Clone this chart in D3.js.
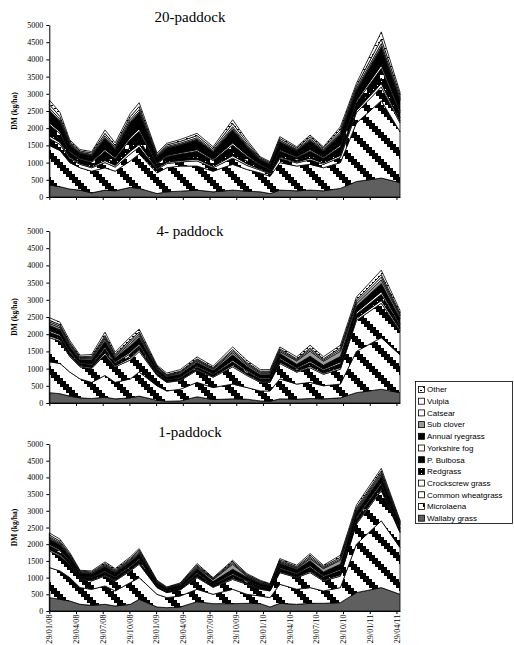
<!DOCTYPE html>
<html><head><meta charset="utf-8">
<script src="https://cdn.jsdelivr.net/npm/d3@7"></script>
<style>body{margin:0;background:#fff} .serif{font-family:'Liberation Serif','Times New Roman',serif} .sans{font-family:'Liberation Sans',Arial,sans-serif}</style>
</head><body><svg id="c" width="514" height="645"></svg>
<script>
// ---- data ----
const seriesNames = ["Wallaby grass","Microlaena","Common wheatgrass","Crockscrew grass","Redgrass","P. Bulbosa","Yorkshire fog","Annual ryegrass","Sub clover","Catsear","Vulpia","Other"];
// sampling time, in months after 29/01/08
const months = [0,1.2,2.3,3.45,4.76,6.26,7.4,9.1,10.1,12.1,13.2,14.7,16.6,18.4,20.6,22.2,23.7,24.8,25.9,27.8,29.3,30.8,32.7,34.5,37.3,39.4];
const tickMonths = [0,3,6,9,12,15,18,21,24,27,30,33,36,39];
const tickLabels = ["29/01/08","29/04/08","29/07/08","29/10/08","29/01/09","29/04/09","29/07/09","29/10/09","29/01/10","29/04/10","29/07/10","29/10/10","29/01/11","29/04/11"];
const yTicks = [0,500,1000,1500,2000,2500,3000,3500,4000,4500,5000];
const titles = ["20-paddock","4- paddock","1-paddock"];

// 20-paddock
const p20Wallaby = [350,300,230,200,120,200,180,280,250,100,150,170,200,150,200,170,150,100,200,180,200,180,250,450,550,420];
const p20Micro   = [1150,1050,770,650,630,650,570,770,1000,600,700,730,700,600,750,630,550,500,800,720,750,670,750,1700,2250,1480];
const p20Wheat   = [200,180,120,100,100,150,120,200,200,100,120,120,150,100,180,120,80,70,120,90,130,100,150,300,400,250];
const p20Crock   = [80,60,40,30,30,60,50,80,80,30,40,40,50,40,70,50,30,30,40,30,50,40,60,60,100,60];
const p20Red     = [120,100,60,50,50,100,70,120,130,50,60,70,80,60,110,80,40,40,70,50,80,50,90,90,160,90];
const p20Bulbosa = [200,160,90,70,80,170,120,230,250,80,110,120,150,110,200,130,70,60,110,80,130,90,160,150,280,160];
const p20Fog     = [60,50,30,25,30,50,40,60,70,30,30,35,45,35,60,40,25,20,35,25,40,30,50,50,90,50];
const p20Rye     = [330,280,180,140,160,320,230,420,460,170,210,220,280,210,380,250,130,120,220,170,250,180,310,280,500,300];
const p20Clover  = [40,30,20,15,15,30,25,40,40,15,20,25,30,20,40,25,15,10,20,15,25,15,30,30,50,30];
const p20Catsear = [60,50,30,25,25,50,35,60,60,25,30,35,40,30,55,40,20,20,35,25,40,30,45,45,80,50];
const p20Vulpia  = [100,80,40,35,40,70,55,80,90,35,45,50,60,50,90,60,30,30,50,40,55,40,70,70,130,80];
const p20Other   = [130,120,50,40,40,100,80,90,110,45,45,55,65,55,110,65,30,30,55,35,50,35,75,75,210,80];

// 4-paddock
const p4Wallaby = [300,270,200,150,130,170,120,150,200,80,50,60,180,100,120,110,60,50,120,110,130,120,150,300,400,300];
const p4Micro   = [900,880,700,550,470,630,480,550,700,420,300,340,420,350,430,340,290,300,580,440,470,380,400,1200,1500,1100];
const p4Wheat   = [700,650,450,350,400,600,450,550,600,300,250,250,350,300,500,350,250,250,450,345,425,335,430,900,1000,700];
const p4Crock   = [50,45,40,30,35,55,35,55,55,25,20,25,30,25,45,35,30,30,40,30,45,35,50,55,80,50];
const p4Red     = [50,45,40,30,35,55,35,55,55,25,20,25,30,25,45,35,30,30,40,30,45,35,50,55,80,50];
const p4Bulbosa = [60,55,45,35,40,65,45,70,65,30,25,30,40,30,60,45,35,35,50,40,60,45,65,70,100,60];
const p4Fog     = [45,45,40,25,30,50,35,50,50,25,20,25,30,25,45,35,30,30,40,30,45,35,50,55,75,45];
const p4Rye     = [150,140,120,90,110,170,110,180,170,75,70,80,100,80,150,110,95,95,120,100,140,110,160,170,240,150];
const p4Clover  = [60,60,50,35,40,70,45,70,70,35,30,40,45,40,70,50,45,45,55,100,150,120,150,80,110,70];
const p4Catsear = [45,45,40,25,35,50,35,50,50,25,20,25,30,25,45,35,30,30,40,30,45,35,50,55,75,45];
const p4Vulpia  = [45,45,35,25,35,50,35,50,50,25,20,25,30,25,45,35,30,30,40,30,45,35,50,55,75,45];
const p4Other   = [75,70,60,45,50,95,55,90,85,35,45,45,55,45,75,60,45,45,55,55,80,60,75,85,125,75];

// 1-paddock
const p1Wallaby = [400,350,300,200,170,200,150,200,350,120,100,120,280,220,220,230,220,120,230,200,230,230,250,550,700,500];
const p1Micro   = [900,850,700,500,480,550,450,650,650,380,300,330,370,280,430,270,230,280,570,450,470,370,450,1450,2000,1400];
const p1Wheat   = [500,450,400,250,250,300,300,350,400,200,150,180,350,210,295,300,200,200,350,350,450,300,345,600,900,450];
const p1Crock   = [40,40,25,20,25,30,25,30,35,15,12,15,30,20,35,25,20,15,30,25,40,30,40,40,50,25];
const p1Red     = [50,45,35,25,30,40,35,40,45,20,15,20,40,25,45,30,25,20,40,35,55,40,55,55,65,35];
const p1Bulbosa = [70,65,45,35,40,55,50,55,60,30,25,30,55,35,60,40,35,30,55,50,70,55,70,70,85,50];
const p1Fog     = [40,35,25,20,20,30,25,30,35,15,12,15,30,20,35,25,20,15,30,25,40,30,40,40,50,25];
const p1Rye     = [150,140,100,80,85,120,110,120,135,65,50,60,120,70,130,90,75,65,120,105,150,115,150,150,180,100];
const p1Clover  = [40,35,25,20,20,35,30,35,40,15,12,15,35,60,150,30,25,20,35,35,65,100,120,50,60,35];
const p1Catsear = [40,35,25,20,20,30,25,30,35,15,12,15,30,20,35,25,20,15,30,25,40,30,40,40,50,25];
const p1Vulpia  = [50,45,30,25,30,35,30,35,40,20,15,20,35,20,40,25,25,20,40,30,50,35,50,50,55,35];
const p1Other   = [60,60,40,25,30,45,40,45,45,25,17,20,45,20,45,30,25,20,40,40,60,35,60,75,75,40];

const panels = [
  [p20Wallaby,p20Micro,p20Wheat,p20Crock,p20Red,p20Bulbosa,p20Fog,p20Rye,p20Clover,p20Catsear,p20Vulpia,p20Other],
  [p4Wallaby,p4Micro,p4Wheat,p4Crock,p4Red,p4Bulbosa,p4Fog,p4Rye,p4Clover,p4Catsear,p4Vulpia,p4Other],
  [p1Wallaby,p1Micro,p1Wheat,p1Crock,p1Red,p1Bulbosa,p1Fog,p1Rye,p1Clover,p1Catsear,p1Vulpia,p1Other]
];

// ---- drawing ----
const svg = d3.select("#c");
const defs = svg.append("defs");

function stripePattern(id, dx){
  const p = defs.append("pattern").attr("id", id).attr("patternUnits","userSpaceOnUse")
    .attr("width",27).attr("height",27).attr("patternTransform",`translate(${dx},0)`);
  p.append("rect").attr("width",27).attr("height",27).attr("fill","#fff");
  for(let j=0;j<9;j++){
    const x0 = 3*j, y0 = 3*j;
    if(x0+9<=27) p.append("rect").attr("x",x0).attr("y",y0).attr("width",9).attr("height",3).attr("fill","#000");
    else {
      p.append("rect").attr("x",x0).attr("y",y0).attr("width",27-x0).attr("height",3).attr("fill","#000");
      p.append("rect").attr("x",0).attr("y",y0).attr("width",x0+9-27).attr("height",3).attr("fill","#000");
    }
  }
}
stripePattern("pMicro",0);
stripePattern("pWheat",13);
(function(){
  const p = defs.append("pattern").attr("id","pBulb").attr("patternUnits","userSpaceOnUse").attr("width",17).attr("height",14);
  p.append("rect").attr("width",17).attr("height",14).attr("fill","#000");
  p.append("rect").attr("x",6).attr("y",5).attr("width",4).attr("height",4).attr("fill","#fff");
  const q = defs.append("pattern").attr("id","pRed").attr("patternUnits","userSpaceOnUse").attr("width",4).attr("height",4);
  q.append("rect").attr("width",4).attr("height",4).attr("fill","#000");
  q.append("rect").attr("x",1).attr("y",1).attr("width",1).attr("height",1).attr("fill","#fff");
  const o = defs.append("pattern").attr("id","pOther").attr("patternUnits","userSpaceOnUse").attr("width",6).attr("height",6);
  o.append("rect").attr("width",6).attr("height",6).attr("fill","#fff");
  o.append("rect").attr("x",0).attr("y",0).attr("width",2).attr("height",1).attr("fill","#000");
  o.append("rect").attr("x",3).attr("y",3).attr("width",2).attr("height",1).attr("fill","#000");
})();

const fills = ["#5f5f5f","url(#pMicro)","url(#pWheat)","#fff","url(#pRed)","url(#pBulb)","#fff","#000","#999","#fff","#fff","url(#pOther)"];

const x = d3.scaleLinear().domain([0, 39.4]).range([49.3, 400]);
const layout = [
  {top:25, bottom:197, titleY:22},
  {top:231, bottom:403, titleY:236},
  {top:444, bottom:611, titleY:437}
];

panels.forEach((arrs, pi) => {
  const L = layout[pi];
  const y = d3.scaleLinear().domain([0,5000]).range([L.bottom, L.top]);
  const rows = months.map((m,i) => {
    const r = {m};
    seriesNames.forEach((n,k) => r[n] = arrs[k][i]);
    return r;
  });
  const stacked = d3.stack().keys(seriesNames)(rows);
  const area = d3.area().x(d => x(d.data.m)).y0(d => y(d[0])).y1(d => y(d[1]));
  const g = svg.append("g");
  g.selectAll("path.a").data(stacked).join("path").attr("class","a")
    .attr("d", area).attr("fill", (d,i) => fills[i])
    .attr("stroke","#000").attr("stroke-width",0.8).attr("stroke-linejoin","round");

  const ya = g.append("g").attr("transform",`translate(${49.3},0)`)
    .call(d3.axisLeft(y).tickValues(yTicks).tickSize(3).tickSizeOuter(0).tickFormat(d3.format("d")));
  ya.attr("font-family",null).attr("font-size",null);
  ya.selectAll("text").attr("class","serif").style("font-size","8px").attr("fill","#000");
  ya.select(".domain").attr("stroke","#000");
  const xa = g.append("g").attr("transform",`translate(0,${L.bottom})`)
    .call(d3.axisBottom(x).tickValues(tickMonths).tickSize(3).tickSizeOuter(0)
      .tickFormat((d,i) => pi===2 ? tickLabels[i] : ""));
  xa.attr("font-family",null).attr("font-size",null);
  xa.select(".domain").attr("stroke","#000");
  xa.selectAll("text").attr("class","serif").style("font-size","8.2px").attr("fill","#000")
    .attr("text-anchor","end").attr("transform","rotate(-90)").attr("x",-3.5).attr("y",0).attr("dy","0.32em");

  g.append("text").attr("class","serif").attr("x",190).attr("y",L.titleY).attr("text-anchor","middle")
    .style("font-size","15px").text(titles[pi]);
  g.append("text").attr("class","serif").attr("transform",`translate(17,${(L.top+L.bottom)/2}) rotate(-90)`)
    .attr("text-anchor","middle").attr("font-weight","bold")
    .style("font-size","7.5px").text("DM (kg/ha)");
});

// legend
const lg = svg.append("g");
lg.append("rect").attr("x",415.5).attr("y",381.5).attr("width",97).attr("height",142)
  .attr("fill","#fff").attr("stroke","#000").attr("stroke-width",0.8);
const legendOrder = seriesNames.map((n,i)=>i).reverse();
legendOrder.forEach((k,j) => {
  const cy = 389.5 + j*11.7;
  lg.append("rect").attr("x",418.5).attr("y",cy-3).attr("width",6).attr("height",6)
    .attr("fill",fills[k]).attr("stroke","#000").attr("stroke-width",0.8);
  lg.append("text").attr("class","sans").attr("x",427).attr("y",cy).attr("dy","0.35em")
    .style("font-size","8px").text(seriesNames[k]);
});
</script></body></html>
